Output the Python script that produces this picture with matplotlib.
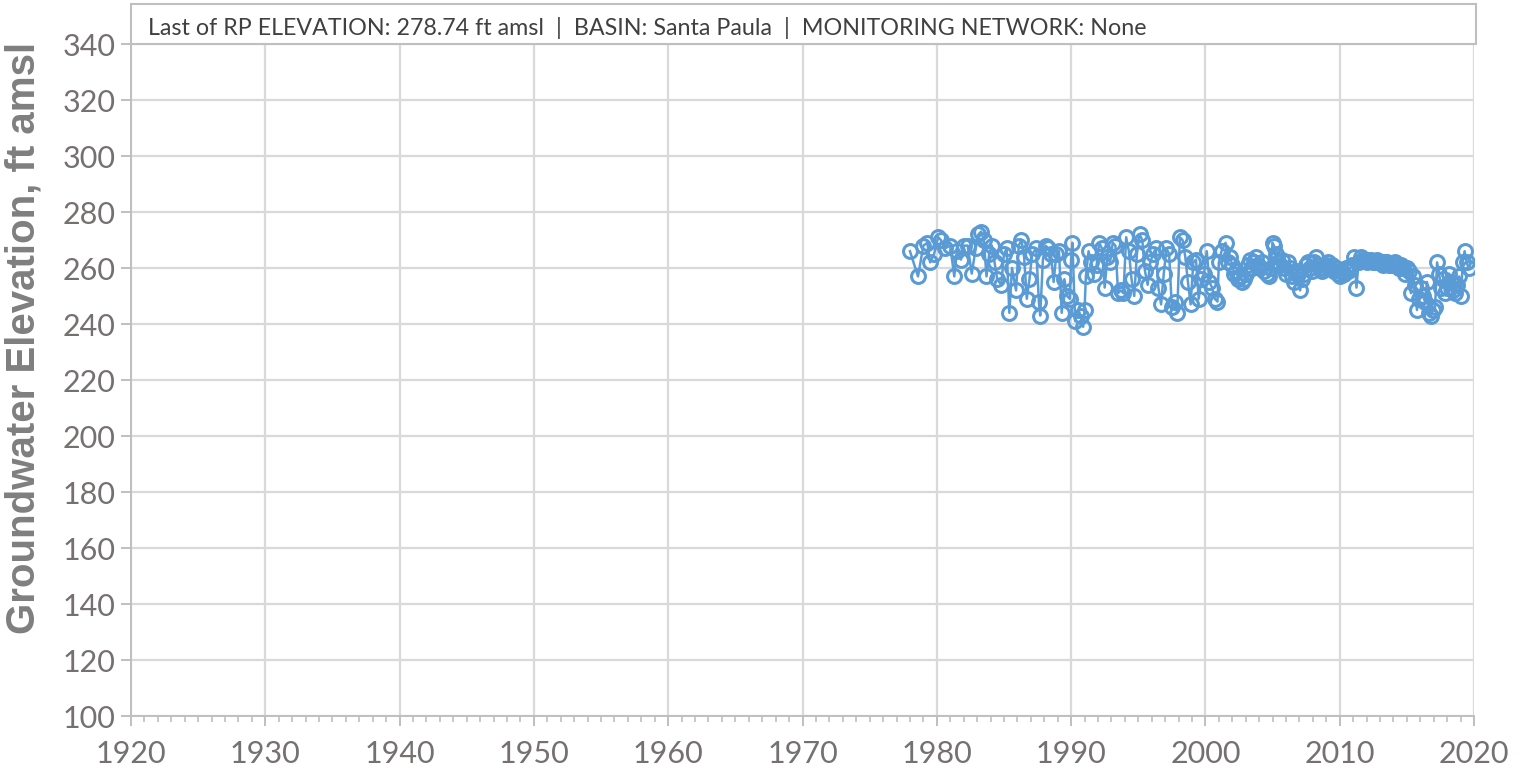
import matplotlib
matplotlib.use("Agg")
import matplotlib.pyplot as plt
from matplotlib.patches import Rectangle
from matplotlib.ticker import MultipleLocator

# measurement dates (decimal years) and groundwater elevations (ft amsl)
dates = [
    1978.0, 1978.6, 1979.0, 1979.3, 1979.5, 1979.8, 1980.1, 1980.3, 1980.6, 1981.0,
    1981.3, 1981.5, 1981.8, 1982.0, 1982.3, 1982.6, 1982.9, 1983.1, 1983.3, 1983.5,
    1983.7, 1983.9, 1984.1, 1984.3, 1984.5, 1984.8, 1985.0, 1985.2, 1985.4, 1985.6,
    1985.9, 1986.1, 1986.3, 1986.5, 1986.7, 1986.9, 1987.1, 1987.4, 1987.6, 1987.7,
    1987.9, 1988.1, 1988.3, 1988.5, 1988.7, 1988.9, 1989.1, 1989.3, 1989.5, 1989.7,
    1989.9, 1990.0, 1990.1, 1990.3, 1990.5, 1990.7, 1990.9, 1991.0, 1991.1, 1991.3,
    1991.5, 1991.7, 1991.9, 1992.1, 1992.3, 1992.5, 1992.7, 1992.9, 1993.1, 1993.3,
    1993.5, 1993.7, 1993.9, 1994.1, 1994.3, 1994.5, 1994.7, 1994.9, 1995.1, 1995.3,
    1995.5, 1995.7, 1995.9, 1996.1, 1996.3, 1996.5, 1996.7, 1996.9, 1997.1, 1997.3,
    1997.5, 1997.7, 1997.9, 1998.1, 1998.3, 1998.5, 1998.7, 1998.9, 1999.1, 1999.3,
    1999.5, 1999.7, 1999.9, 2000.1, 2000.3, 2000.5, 2000.7, 2000.9, 2001.0, 2001.2,
    2001.5, 2001.7, 2001.85, 2002.0, 2002.15, 2002.3, 2002.45, 2002.6, 2002.75, 2002.9,
    2003.05, 2003.2, 2003.35, 2003.5, 2003.65, 2003.8, 2003.95, 2004.1, 2004.25, 2004.4,
    2004.55, 2004.7, 2004.85, 2005.0, 2005.1, 2005.25, 2005.4, 2005.55, 2005.7, 2005.85,
    2006.0, 2006.15, 2006.3, 2006.45, 2006.6, 2006.75, 2006.9, 2007.05, 2007.2, 2007.35,
    2007.5, 2007.65, 2007.8, 2007.95, 2008.1, 2008.25, 2008.4, 2008.55, 2008.7, 2008.85,
    2009.0, 2009.15, 2009.3, 2009.45, 2009.6, 2009.75, 2009.9, 2010.05, 2010.2, 2010.35,
    2010.5, 2010.65, 2010.8, 2010.95, 2011.1, 2011.25, 2011.4, 2011.55, 2011.7, 2011.85,
    2012.0, 2012.15, 2012.3, 2012.45, 2012.6, 2012.75, 2012.9, 2013.05, 2013.2, 2013.35,
    2013.5, 2013.65, 2013.8, 2013.95, 2014.1, 2014.25, 2014.4, 2014.55, 2014.7, 2014.85,
    2015.0, 2015.15, 2015.3, 2015.45, 2015.6, 2015.75, 2015.9, 2016.05, 2016.2, 2016.35,
    2016.5, 2016.65, 2016.8, 2016.95, 2017.1, 2017.25, 2017.4, 2017.55, 2017.7, 2017.85,
    2018.0, 2018.15, 2018.3, 2018.45, 2018.6, 2018.75, 2018.9, 2019.05, 2019.15, 2019.3,
    2019.45, 2019.6,
]
elev = [
    266, 257, 268, 269, 262, 265, 271, 270, 267, 268,
    257, 266, 263, 268, 268, 258, 267, 272, 273, 270,
    257, 265, 268, 262, 256, 254, 265, 267, 244, 260,
    252, 268, 270, 264, 249, 256, 265, 267, 248, 243,
    263, 268, 267, 265, 255, 265, 266, 244, 256, 250,
    249, 263, 269, 241, 245, 243, 239, 245, 257, 266,
    262, 258, 261, 269, 267, 253, 264, 262, 269, 268,
    251, 252, 251, 271, 266, 256, 250, 265, 272, 270,
    259, 254, 262, 265, 267, 253, 247, 258, 267, 265,
    246, 248, 244, 271, 270, 264, 255, 247, 262, 263,
    249, 256, 258, 266, 255, 253, 249, 248, 262, 266,
    269, 262, 264, 261, 258, 259, 256, 257, 255, 256,
    258, 261, 263, 260, 262, 264, 261, 260, 262, 259,
    258, 257, 260, 269, 268, 265, 262, 261, 263, 260,
    258, 262, 260, 257, 255, 259, 258, 252, 256, 258,
    261, 262, 260, 259, 262, 264, 261, 260, 259, 260,
    261, 262, 260, 261, 259, 260, 258, 257, 259, 258,
    260, 259, 260, 261, 264, 253, 262, 264, 263, 263,
    262, 263, 263, 262, 262, 263, 262, 262, 261, 262,
    262, 261, 261, 261, 262, 261, 260, 261, 260, 258,
    260, 259, 251, 257, 254, 245, 249, 253, 250, 248,
    255, 244, 243, 245, 246, 262, 258, 253, 256, 251,
    253, 258, 255, 252, 251, 254, 257, 250, 262, 266,
    262, 260,
]

header = "Last of RP ELEVATION: 278.74 ft amsl  |  BASIN: Santa Paula  |  MONITORING NETWORK: None"

W, H = 1528, 776
fig = plt.figure(figsize=(W / 100, H / 100), dpi=100)
ax = fig.add_axes([131 / W, (H - 716) / H, (1474 - 131) / W, (716 - 44) / H])

ax.plot(dates, elev, color="#5B9BD5", lw=1.8, marker="o", ms=10,
        mfc="none", mec="#5B9BD5", mew=2.2, zorder=3)

ax.set_xlim(1920, 2020)
ax.set_ylim(100, 340)
ax.xaxis.set_major_locator(MultipleLocator(10))
ax.xaxis.set_minor_locator(MultipleLocator(1))
ax.yaxis.set_major_locator(MultipleLocator(20))

gray = "#D9D9D9"
ax.grid(True, which="major", color=gray, lw=1.6, zorder=0)
for s in ["top", "right"]:
    ax.spines[s].set_visible(False)
for s in ["left", "bottom"]:
    ax.spines[s].set_color("#BFBFBF")
    ax.spines[s].set_linewidth(1.4)

ax.tick_params(axis="both", which="major", direction="out", length=7,
               width=1.4, color="#BFBFBF", labelsize=22, labelcolor="#767171")
ax.tick_params(axis="x", which="minor", direction="out", length=4,
               width=1.2, color="#BFBFBF")
ax.tick_params(axis="x", pad=10)
ax.tick_params(axis="y", pad=4)
for lab in ax.get_xticklabels() + ax.get_yticklabels():
    lab.set_fontfamily("Lato")

ax.set_ylabel("Groundwater Elevation, ft amsl", fontsize=29, fontweight="bold",
              color="#7F7F7F", family="Liberation Sans", va="center")
ax.yaxis.set_label_coords(-0.080, 0.5625)

# header box above the plot
fig.patches.append(Rectangle((131 / W, (H - 44) / H), (1476 - 131) / W, 40 / H,
                             transform=fig.transFigure, fill=False,
                             edgecolor="#BFBFBF", lw=1.5))
fig.text(148 / W, (H - 28) / H, header, fontsize=16.75, family="Lato",
         color="#404040", va="center", ha="left")

fig.savefig("out.png", dpi=100)
